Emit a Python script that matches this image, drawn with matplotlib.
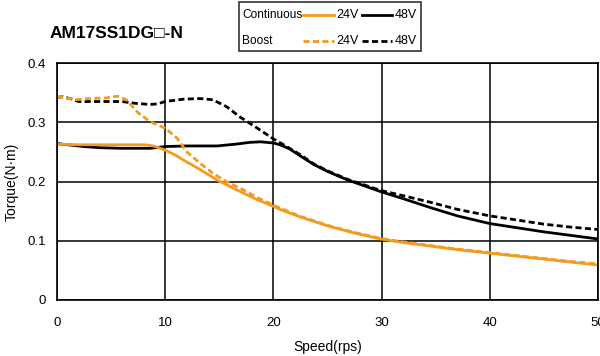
import matplotlib
matplotlib.use("Agg")
import matplotlib.pyplot as plt
from matplotlib.lines import Line2D
from matplotlib.patches import Rectangle

plt.rcParams['font.family'] = ['Liberation Sans', 'DejaVu Sans']

# speed (rps) / torque (N*m)
cont24_x = [0, 2, 4, 6, 8, 8.6, 9.1, 10, 10.9, 11.7, 13.2, 14.8, 16.6, 18.3, 20, 20.6,
            22.5, 25.2, 27.5, 29.9, 32, 34.5, 37, 40, 42.5, 45, 47.5, 50]
cont24_y = [0.263, 0.262, 0.262, 0.262, 0.262, 0.261, 0.259, 0.253, 0.245, 0.236, 0.2205, 0.2025, 0.186, 0.171, 0.158, 0.153,
            0.140, 0.124, 0.113, 0.103, 0.097, 0.091, 0.085, 0.079, 0.074, 0.069, 0.064, 0.059]

cont48_x = [0, 1, 2.5, 4, 6, 8.6, 10, 12, 14.8, 16.5, 17.8, 18.8, 20, 20.6, 21.5, 22.5,
            23.7, 25, 26.8, 29.9, 32, 34.5, 37, 40, 42.5, 45, 47.5, 50]
cont48_y = [0.264, 0.262, 0.259, 0.257, 0.256, 0.256, 0.259, 0.260, 0.260, 0.263, 0.266, 0.267, 0.265, 0.262, 0.255, 0.243,
            0.229, 0.217, 0.203, 0.183, 0.171, 0.156, 0.142, 0.129, 0.122, 0.115, 0.109, 0.103]

boost24_x = [0, 0.4, 1.7, 3, 4.5, 5.6, 6.4, 7.5, 8.6, 10, 11.1, 12, 13.2, 14.4, 15.4, 17.2, 18.6, 20,
             22.5, 25.2, 27.5, 29.9, 32, 34.5, 37, 40, 42.5, 45, 47.5, 50]
boost24_y = [0.342, 0.343, 0.338, 0.340, 0.341, 0.344, 0.338, 0.316, 0.301, 0.290, 0.273, 0.250, 0.231, 0.214, 0.2025, 0.186, 0.172, 0.160,
             0.141, 0.125, 0.114, 0.104, 0.098, 0.092, 0.086, 0.080, 0.075, 0.070, 0.065, 0.061]

boost48_x = [0, 0.5, 1.2, 2, 4, 6, 7.2, 8.6, 9.3, 10, 11.7, 13.2, 14.4, 15.7, 16.9, 18.1, 20, 21.5, 22.5,
             23.7, 25, 26.8, 29.9, 32, 34.5, 37, 40, 42.5, 45, 47.5, 50]
boost48_y = [0.342, 0.343, 0.340, 0.335, 0.335, 0.335, 0.332, 0.330, 0.331, 0.335, 0.339, 0.340, 0.338, 0.326, 0.309, 0.295, 0.272, 0.256, 0.245,
             0.230, 0.218, 0.204, 0.185, 0.176, 0.165, 0.153, 0.142, 0.135, 0.128, 0.123, 0.119]

x_ticks = [0, 10, 20, 30, 40, 50]
y_ticks = [0, 0.1, 0.2, 0.3, 0.4]
y_labels = ['0', '0.1', '0.2', '0.3', '0.4']

orange = '#f39a21'
dash = (0, (2.2, 1.2))

fig = plt.figure(figsize=(6, 3.56), dpi=100)
ax = fig.add_axes([57/600, 56/356, 541/600, 237/356])

ax.plot(cont48_x, cont48_y, color='black', lw=2)
ax.plot(boost48_x, boost48_y, color='black', lw=2, ls=dash)
ax.plot(cont24_x, cont24_y, color=orange, lw=2)
ax.plot(boost24_x, boost24_y, color=orange, lw=2, ls=dash)

ax.set_xlim(0, 50)
ax.set_ylim(0, 0.4)
ax.set_xticks(x_ticks)
ax.set_yticks(y_ticks)
ax.set_yticklabels(y_labels)
ax.grid(True, color='black', lw=1.1)
ax.set_axisbelow(True)
ax.tick_params(length=0, labelsize=9.5, pad=8)
ax.tick_params(axis='x', pad=12)
for s in ax.spines.values():
    s.set_linewidth(1.2)
ax.set_xlabel('Speed(rps)', fontsize=10, labelpad=8)
ax.set_ylabel('Torque(N·m)', fontsize=10, labelpad=6)

fig.text(50/600, 1 - 33/356, 'AM17SS1DG□-N', fontsize=12.5, fontweight='bold',
         va='center', ha='left', family=['Liberation Sans', 'DejaVu Sans'])

# legend box drawn by hand
fig.patches.append(Rectangle((239/600, 1 - 51/356), 182/600, 49/356, transform=fig.transFigure,
                             fill=False, edgecolor='#333333', lw=1.2))
rows = [('Continuous', '-', 15), ('Boost', dash, 41)]
for name, style, py in rows:
    fy = 1 - py/356
    fig.text(242/600, fy, name, fontsize=8.6, va='center', ha='left')
    fig.lines.append(Line2D([303/600, 334/600], [fy, fy], transform=fig.transFigure,
                            color=orange, lw=2, ls=style))
    fig.text(336/600, fy, '24V', fontsize=9, va='center', ha='left')
    fig.lines.append(Line2D([362/600, 392/600], [fy, fy], transform=fig.transFigure,
                            color='black', lw=2, ls=style))
    fig.text(395/600, fy, '48V', fontsize=9, va='center', ha='left')

plt.savefig('out.png')
